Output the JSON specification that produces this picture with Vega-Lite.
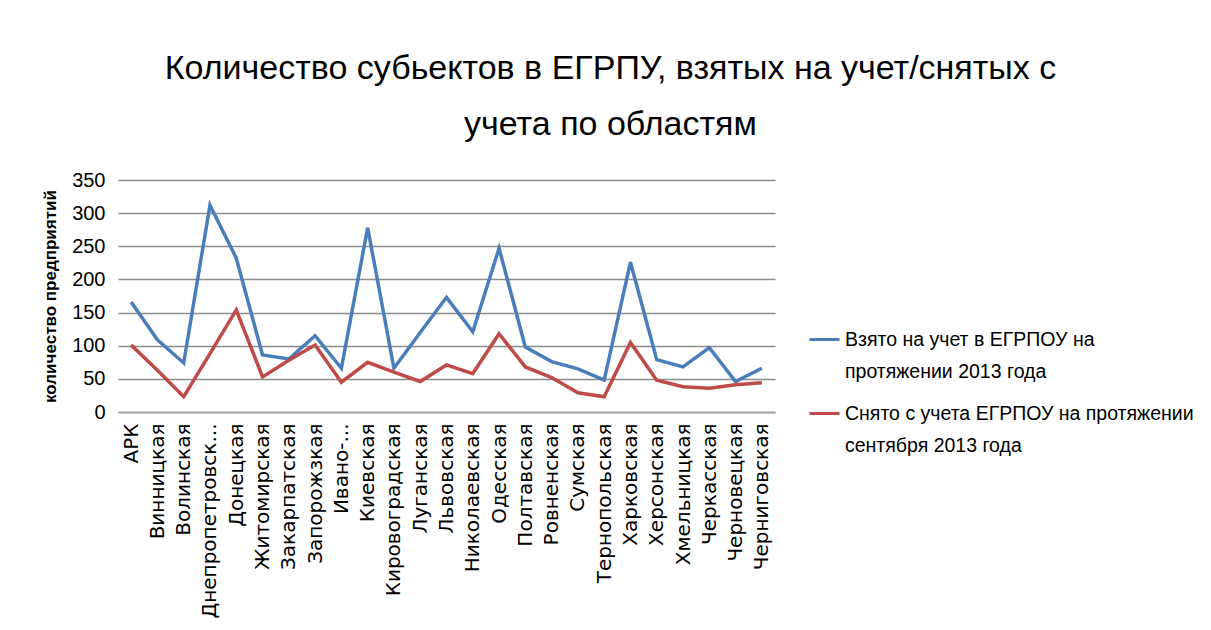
{
  "$schema": "https://vega.github.io/schema/vega-lite/v6.json",
  "width": 657,
  "height": 232,
  "autosize": {"type": "none"},
  "padding": {"left": 118, "top": 180, "right": 436, "bottom": 218},
  "background": "white",
  "title": {
    "text": ["Количество субьектов в ЕГРПУ, взятых на учет/снятых с", "учета  по областям"],
    "font": "Liberation Sans",
    "fontSize": 34,
    "fontWeight": "normal",
    "color": "#000000",
    "anchor": "middle",
    "frame": "group",
    "dx": 164,
    "lineHeight": 56,
    "offset": 28
  },
  "data": {
    "values": [
      {"region": "АРК", "series": "a", "value": 166},
      {"region": "Винницкая", "series": "a", "value": 109},
      {"region": "Волинская", "series": "a", "value": 74},
      {"region": "Днепропетровская", "series": "a", "value": 312},
      {"region": "Донецкая", "series": "a", "value": 232},
      {"region": "Житомирская", "series": "a", "value": 86},
      {"region": "Закарпатская", "series": "a", "value": 80},
      {"region": "Запорожзкая", "series": "a", "value": 115},
      {"region": "Ивано-Франковская", "series": "a", "value": 66},
      {"region": "Киевская", "series": "a", "value": 278},
      {"region": "Кировоградская", "series": "a", "value": 66},
      {"region": "Луганская", "series": "a", "value": 120},
      {"region": "Львовская", "series": "a", "value": 173},
      {"region": "Николаевская", "series": "a", "value": 121},
      {"region": "Одесская", "series": "a", "value": 247},
      {"region": "Полтавская", "series": "a", "value": 98},
      {"region": "Ровненская", "series": "a", "value": 76},
      {"region": "Сумская", "series": "a", "value": 65},
      {"region": "Тернопольская", "series": "a", "value": 48},
      {"region": "Харковская", "series": "a", "value": 226},
      {"region": "Херсонская", "series": "a", "value": 79},
      {"region": "Хмельницкая", "series": "a", "value": 68},
      {"region": "Черкасская", "series": "a", "value": 97},
      {"region": "Черновецкая", "series": "a", "value": 46},
      {"region": "Черниговская", "series": "a", "value": 66},
      {"region": "АРК", "series": "b", "value": 101},
      {"region": "Винницкая", "series": "b", "value": 63},
      {"region": "Волинская", "series": "b", "value": 23},
      {"region": "Днепропетровская", "series": "b", "value": 88},
      {"region": "Донецкая", "series": "b", "value": 154},
      {"region": "Житомирская", "series": "b", "value": 53},
      {"region": "Закарпатская", "series": "b", "value": 78},
      {"region": "Запорожзкая", "series": "b", "value": 101},
      {"region": "Ивано-Франковская", "series": "b", "value": 45},
      {"region": "Киевская", "series": "b", "value": 75},
      {"region": "Кировоградская", "series": "b", "value": 60},
      {"region": "Луганская", "series": "b", "value": 46},
      {"region": "Львовская", "series": "b", "value": 71},
      {"region": "Николаевская", "series": "b", "value": 58},
      {"region": "Одесская", "series": "b", "value": 118},
      {"region": "Полтавская", "series": "b", "value": 68},
      {"region": "Ровненская", "series": "b", "value": 52},
      {"region": "Сумская", "series": "b", "value": 29},
      {"region": "Тернопольская", "series": "b", "value": 23},
      {"region": "Харковская", "series": "b", "value": 105},
      {"region": "Херсонская", "series": "b", "value": 48},
      {"region": "Хмельницкая", "series": "b", "value": 38},
      {"region": "Черкасская", "series": "b", "value": 36},
      {"region": "Черновецкая", "series": "b", "value": 41},
      {"region": "Черниговская", "series": "b", "value": 44}
    ]
  },
  "mark": {"type": "line", "strokeWidth": 3.5, "strokeJoin": "miter"},
  "encoding": {
    "x": {
      "field": "region",
      "type": "nominal",
      "sort": null,
      "scale": {"type": "point", "padding": 0.5},
      "axis": {
        "title": null,
        "labelAngle": -90,
        "labelAlign": "right",
        "labelBaseline": "middle",
        "labelFont": "DejaVu Sans",
        "labelFontSize": 20,
        "labelColor": "#000000",
        "labelPadding": 11,
        "labelLimit": 300,
        "labelOverlap": false,
        "ticks": false,
        "grid": false,
        "domain": true,
        "domainColor": "#a0a0a0",
        "domainWidth": 1.5,
        "labelExpr": "datum.label == 'Днепропетровская' ? 'Днепропетровск...' : datum.label == 'Ивано-Франковская' ? 'Ивано-...' : datum.label"
      }
    },
    "y": {
      "field": "value",
      "type": "quantitative",
      "scale": {"domain": [0, 350], "nice": false},
      "axis": {
        "values": [0, 50, 100, 150, 200, 250, 300, 350],
        "title": "количество предприятий",
        "titleFont": "Liberation Sans",
        "titleFontSize": 17,
        "titleFontWeight": "bold",
        "titleColor": "#000000",
        "titlePadding": 12,
        "labelFont": "Liberation Sans",
        "labelFontSize": 20,
        "labelColor": "#000000",
        "labelPadding": 13,
        "ticks": false,
        "domain": false,
        "grid": true,
        "gridColor": "#8c8c8c",
        "gridWidth": 1.5
      }
    },
    "color": {
      "field": "series",
      "type": "nominal",
      "scale": {"domain": ["a", "b"], "range": ["#4a7ebb", "#be4b48"]},
      "legend": {
        "title": null,
        "orient": "none",
        "legendX": 690,
        "legendY": 143,
        "direction": "vertical",
        "symbolType": "stroke",
        "symbolSize": 900,
        "symbolStrokeWidth": 3,
        "labelFont": "Liberation Sans",
        "labelFontSize": 19.5,
        "labelColor": "#000000",
        "labelLimit": 400,
        "labelOffset": 4,
        "rowPadding": 16,
        "labelExpr": "datum.label == 'a' ? ['Взято на учет в ЕГРПОУ на', 'протяжении  2013 года'] : ['Снято с учета ЕГРПОУ на протяжении', 'сентября 2013 года']"
      }
    }
  },
  "config": {"view": {"stroke": null}, "style": {"guide-label": {"lineHeight": 32}}}
}
